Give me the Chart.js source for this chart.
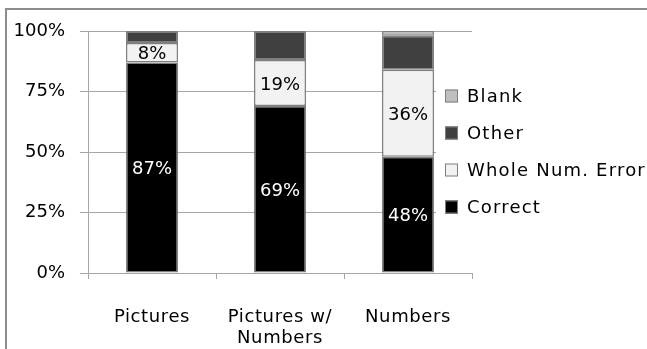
<!DOCTYPE html>
<html>
<head>
<meta charset="utf-8">
<script src="https://cdn.jsdelivr.net/npm/chart.js@4.4.1/dist/chart.umd.min.js"></script>
<style>
  html, body { margin: 0; padding: 0; background: #fff; }
  #wrap { width: 647px; height: 349px; position: relative; }
</style>
</head>
<body>
<div id="wrap"><canvas id="c" width="647" height="349"></canvas></div>
<script>
// Answer types per presentation format, in percent of responses
const categories = ['Pictures', ['Pictures w/', 'Numbers'], 'Numbers'];
const correct    = [87, 69, 48];
const wholeError = [8, 19, 36];
const other      = [5, 12, 14];
const blank      = [0, 0, 2];
const yTicks     = [0, 25, 50, 75, 100];

const FONT = 'DejaVu Sans';
const GRID = '#a6a6a6';
const EDGE = '#7f7f7f';

const seriesDefs = [
  { label: 'Correct',          data: correct,    color: '#000000', text: '#ffffff', show: true },
  { label: 'Whole Num. Error', data: wholeError, color: '#f2f2f2', text: '#000000', show: true },
  { label: 'Other',            data: other,      color: '#404040', text: null,      show: false },
  { label: 'Blank',            data: blank,      color: '#bfbfbf', text: null,      show: false }
];

// Outer frame around the figure
const framePlugin = {
  id: 'frame',
  beforeDraw(chart) {
    const ctx = chart.ctx;
    ctx.save();
    ctx.strokeStyle = '#8c8c8c';
    ctx.lineWidth = 2;
    ctx.beginPath();
    ctx.moveTo(660, 9);
    ctx.lineTo(6, 9);
    ctx.lineTo(6, 360);
    ctx.stroke();
    ctx.restore();
  }
};

// Category names under the axis, one text line per array entry
const categoryLabels = {
  id: 'categoryLabels',
  afterDraw(chart) {
    const ctx = chart.ctx;
    const xs = chart.scales.x;
    ctx.save();
    ctx.font = '18px "' + FONT + '"';
    ctx.letterSpacing = '0.6px';
    ctx.fillStyle = '#000';
    ctx.textAlign = 'center';
    ctx.textBaseline = 'alphabetic';
    chart.data.labels.forEach((lab, i) => {
      const lines = Array.isArray(lab) ? lab : [lab];
      const x = xs.getPixelForValue(i);
      lines.forEach((t, k) => ctx.fillText(t, x, 322 + k * 21));
    });
    ctx.restore();
  }
};

// Percent labels inside the Correct and Whole Num. Error segments
const valueLabels = {
  id: 'valueLabels',
  afterDatasetsDraw(chart) {
    const ctx = chart.ctx;
    ctx.save();
    ctx.font = '18px "' + FONT + '"';
    ctx.textAlign = 'center';
    ctx.textBaseline = 'middle';
    chart.data.datasets.forEach((ds, i) => {
      if (!ds.showValue) return;
      chart.getDatasetMeta(i).data.forEach((bar, j) => {
        const v = ds.data[j];
        if (!v) return;
        const y = (bar.y + bar.base) / 2;
        ctx.fillStyle = ds.valueColor;
        ctx.fillText(v + '%', bar.x, y + 2);
      });
    });
    ctx.restore();
  }
};

// Legend at the right, listed top-down in stacking order
const sideLegend = {
  id: 'sideLegend',
  afterDatasetsDraw(chart) {
    const ctx = chart.ctx;
    const x0 = 445, rowY = [96, 133, 170, 207];
    ctx.save();
    ctx.fillStyle = '#ffffff';
    ctx.fillRect(436, 76, 211, 150);
    ctx.font = '18px "' + FONT + '"';
    ctx.letterSpacing = '1.2px';
    ctx.textBaseline = 'middle';
    ctx.textAlign = 'left';
    const items = chart.data.datasets.slice().reverse();
    items.forEach((ds, k) => {
      const y = rowY[k];
      ctx.fillStyle = ds.backgroundColor;
      ctx.fillRect(x0, y - 6.5, 13, 13);
      ctx.strokeStyle = EDGE;
      ctx.lineWidth = 1;
      ctx.strokeRect(x0 + 0.5, y - 6, 12, 12);
      ctx.fillStyle = '#000000';
      ctx.fillText(ds.label, 467, y + 1);
    });
    ctx.restore();
  }
};

new Chart(document.getElementById('c'), {
  type: 'bar',
  data: {
    labels: categories,
    datasets: seriesDefs.map(s => ({
      label: s.label,
      data: s.data,
      backgroundColor: s.color,
      borderColor: EDGE,
      borderWidth: 1.5,
      borderSkipped: false,
      showValue: s.show,
      valueColor: s.text,
      categoryPercentage: 1,
      barPercentage: 0.406
    }))
  },
  options: {
    responsive: false,
    animation: false,
    events: [],
    layout: { padding: { left: 0, top: 31, right: 175, bottom: 0 } },
    plugins: {
      legend: { display: false },
      tooltip: { enabled: false }
    },
    scales: {
      x: {
        stacked: true,
        grid: { offset: true, drawOnChartArea: false, tickLength: 6, color: GRID },
        border: { color: GRID, width: 1 },
        ticks: { display: false },
        afterFit(scale) { scale.height = 76; }
      },
      y: {
        stacked: true,
        min: 0,
        max: 100,
        afterBuildTicks(scale) { scale.ticks = yTicks.map(v => ({ value: v })); },
        grid: { color: GRID, tickLength: 8 },
        border: { color: GRID, width: 1 },
        ticks: {
          color: '#000',
          font: { family: FONT, size: 18 },
          padding: 15,
          callback: v => v + '%'
        },
        afterFit(scale) { scale.width = 88; }
      }
    }
  },
  plugins: [framePlugin, categoryLabels, valueLabels, sideLegend]
});
</script>
</body>
</html>
